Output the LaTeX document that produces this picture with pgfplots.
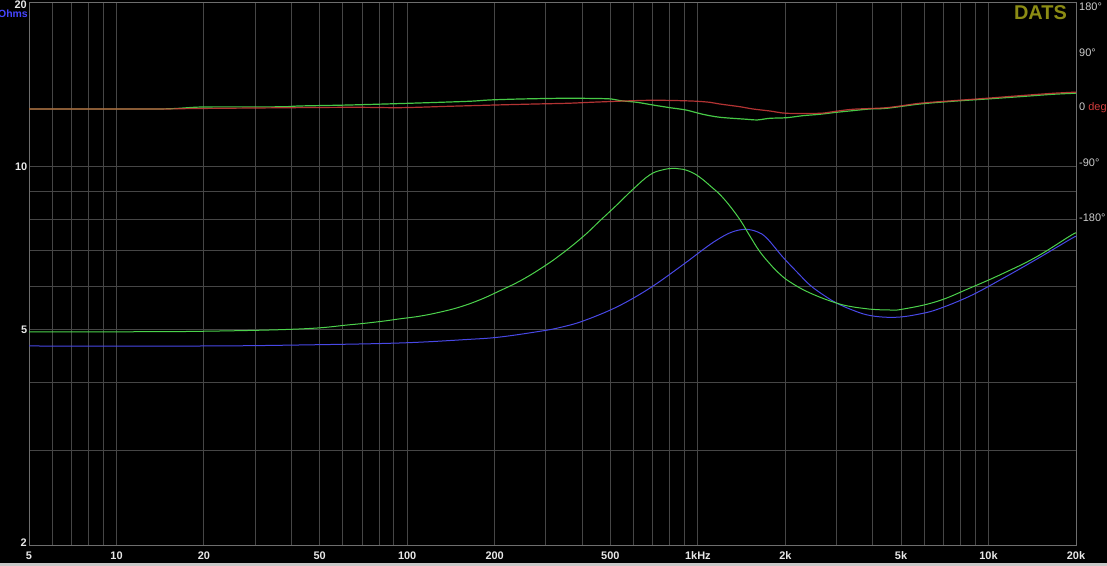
\documentclass[border=0pt]{standalone}
\usepackage{pgfplots}
\pgfplotsset{compat=1.18}
\usepackage{fontspec}
\setmainfont{Liberation Sans}
\definecolor{gridc}{HTML}{464646}
\definecolor{framec}{HTML}{6E6E6E}
\definecolor{zgreen}{HTML}{4CD24C}
\definecolor{zblue}{HTML}{4848E6}
\definecolor{pred}{HTML}{D23C3C}
\definecolor{pgreen}{HTML}{46C846}
\definecolor{datsc}{HTML}{8C8C14}
\definecolor{ohmblue}{HTML}{4646FF}
\definecolor{lab}{HTML}{E8E8E8}
\definecolor{labr}{HTML}{CCCCCC}
\begin{document}
\begin{tikzpicture}[x=1bp,y=1bp]
\useasboundingbox (0,0) rectangle (1107,566);
\fill[black] (0,0) rectangle (1107,566);
\fill[black!22] (0,0) rectangle (1107,3);
\begin{axis}[
  at={(29bp,20bp)}, anchor=south west, scale only axis,
  width=1047bp, height=543bp, clip mode=individual,
  xmode=log, ymode=log,
  xmin=5, xmax=20000, ymin=2, ymax=20,
  axis line style={draw=framec, line width=1bp},
  xtick={5,10,20,50,100,200,500,1000,2000,5000,10000,20000},
  xticklabels={5,10,20,50,100,200,500,1kHz,2k,5k,10k,20k},
  minor xtick={6,7,8,9,30,40,60,70,80,90,300,400,600,700,800,900,3000,4000,6000,7000,8000,9000},
  ytick={5,10}, yticklabels={5,10},
  minor ytick={3,4,6,7,8,9},
  grid=both,
  major grid style={draw=gridc, line width=1bp},
  minor grid style={draw=gridc, line width=1bp},
  major tick length=0pt, minor tick length=0pt,
  tick style={draw=none},
  ticklabel style={font=\fontsize{11}{13}\selectfont\bfseries, text=lab},
  xticklabel style={anchor=base, yshift=-14bp},
  yticklabel style={anchor=east, inner sep=1.5bp},
]
\addplot[zblue, line width=1bp, smooth, tension=0.6] coordinates {
(5,4.67) (20,4.67) (42.8,4.69) (94.4,4.73) (160,4.80) (208,4.85) (286,4.97) (335,5.05)
(402,5.19) (526,5.51) (684,5.97) (888,6.59) (1050,7.05) (1162,7.32) (1300,7.56) (1451,7.66)
(1600,7.58) (1726,7.38) (1960,6.81) (2200,6.38) (2427,6.05) (2700,5.80) (3006,5.60) (3400,5.44) (3812,5.33)
(4325,5.28) (4950,5.28) (5700,5.34) (6636,5.45) (8622,5.77) (11200,6.22)
(14650,6.75) (19330,7.37) (20000,7.42)
};
\addplot[zgreen, line width=1bp, smooth, tension=0.7] coordinates {
(5,4.96) (10,4.96) (19.4,4.97) (42.8,5.02) (63.5,5.11) (80.6,5.18) (94.4,5.24) (110.6,5.30)
(129.5,5.39) (151.8,5.51) (177.9,5.68) (208,5.90) (244,6.15) (286,6.47) (335,6.86)
(402,7.42) (460,7.94) (526,8.49)
(600,9.09) (684,9.65) (760,9.86) (833,9.92) (888,9.88) (950,9.76) (1016,9.55) (1100,9.22)
(1219,8.76) (1380,8.05) (1509,7.45) (1630,6.98) (1768,6.62) (1900,6.36) (2072,6.13) (2427,5.85)
(3006,5.60) (3500,5.50) (3904,5.46) (4573,5.44) (5070,5.46) (6636,5.64) (8622,5.97)
(11200,6.35) (14650,6.82) (19330,7.48) (20000,7.52)
};
\node[anchor=north east, inner sep=0pt, xshift=-2bp, yshift=2bp,
  font=\fontsize{11}{13}\selectfont\bfseries, text=lab] at (rel axis cs:0,1) {20};
\node[anchor=north east, inner sep=0pt, xshift=-1bp, yshift=-7bp,
  font=\fontsize{10.5}{12}\selectfont\bfseries, text=ohmblue] at (rel axis cs:0,1) {Ohms};
\node[anchor=east, inner sep=0pt, xshift=-2bp, yshift=3bp,
  font=\fontsize{11}{13}\selectfont\bfseries, text=lab] at (rel axis cs:0,0) {2};
\end{axis}
\begin{axis}[
  at={(29bp,20bp)}, anchor=south west, scale only axis,
  width=1047bp, height=543bp, clip mode=individual,
  xmode=log, xmin=5, xmax=20000, ymin=-716.7, ymax=171.8,
  hide x axis, axis y line*=right, axis line style={draw=none},
  ytick={-180,-90,0,90},
  yticklabels={-180°,-90°,0 \textcolor{pred}{deg},90°},
  major tick length=0pt, tick style={draw=none},
  yticklabel style={anchor=west, inner sep=3bp, font=\fontsize{11}{13}\selectfont, text=labr},
]
\addplot[pgreen, line width=1.2bp, smooth, tension=0.5] coordinates {
(5,-1.6) (14.1,-1.6) (19.8,1.6) (36.5,1.9) (42.8,3.3) (63.5,4.9) (110,8.2)
(164,11.0) (192,13.1) (245,14.7) (347,15.9) (450,15.5) (504,14.7) (543,11.9)
(617,9.3) (700,4.9) (801,0.5) (910,-3.3) (1040,-10.3) (1190,-15.2) (1475,-18.5)
(1600,-19.6) (1768,-16.9) (2023,-15.9) (2296,-12.6) (2627,-10.3) (3006,-7.0)
(3412,-4.4) (3904,-1.6) (4466,-0.5) (5799,6.5) (7534,11.0) (9860,14.7)
(12800,18.5) (16630,22.4) (19485,24.0) (20000,24.3)
};
\addplot[pred, line width=1.2bp, smooth, tension=0.5, opacity=0.85] coordinates {
(5,-1.6) (14.1,-1.6) (19.4,-0.8) (61.5,1.1) (94.4,0.5) (140,2.8) (202,4.9)
(275,6.5) (357,7.7) (454,9.8) (684,12.6) (940,11.5) (1100,9.3) (1190,6.5)
(1394,2.1) (1545,-1.6) (1768,-4.9) (2023,-8.7) (2627,-8.7) (2913,-6.1)
(3412,-2.1) (4466,0.5) (5799,7.7) (7534,11.9) (9860,15.9) (12800,20.1)
(16630,24.0) (19485,25.7) (20000,25.9)
};
\node[anchor=north west, inner sep=3bp, yshift=3bp,
  font=\fontsize{11}{13}\selectfont, text=labr] at (rel axis cs:1,1) {180°};
\node[anchor=north east, inner sep=0pt, xshift=-9bp, yshift=-2bp,
  font=\fontsize{20}{22}\selectfont\bfseries, text=datsc] at (rel axis cs:1,1) {DATS};
\end{axis}
\end{tikzpicture}
\end{document}
